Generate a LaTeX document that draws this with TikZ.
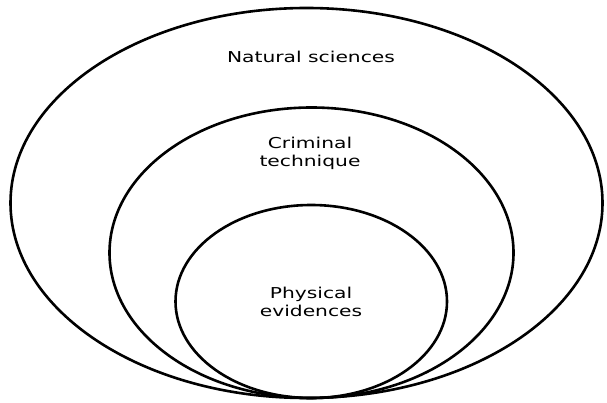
\documentclass[tikz,border=0pt]{standalone}
\usepackage{fontspec}
\setmainfont{DejaVu Sans}
\newfontfamily\etiquette[FakeStretch=1.35]{DejaVu Sans}
\usepackage{tikz}
\usetikzlibrary{shapes.geometric}

\begin{document}
\begin{tikzpicture}[x=1pt,y=-1pt]
% Styles
\tikzstyle{anneau}=[ellipse,draw,line width=2.6pt,inner sep=0pt]
\tikzstyle{texte}=[align=center,font=\etiquette\fontsize{15}{18.5}\selectfont,inner sep=0pt]
% Cadre
\useasboundingbox (0,0) rectangle (607,403);
% Ellipses
\node[anneau,minimum width=592pt,minimum height=390pt] (Sciences) at (306.5,203) {};
\node[anneau,minimum width=404pt,minimum height=290.5pt] (Technique) at (311.5,252.75) {};
\node[anneau,minimum width=271.5pt,minimum height=193pt] (Preuves) at (311.25,301.5) {};
% Textes
\node[texte,anchor=base] (tSciences) at (311,62.7) {Natural sciences};
\node[texte] (tTechnique) at (310,153.6) {Criminal\\technique};
\node[texte] (tPreuves) at (311,302) {Physical\\evidences};
\end{tikzpicture}
\end{document}
